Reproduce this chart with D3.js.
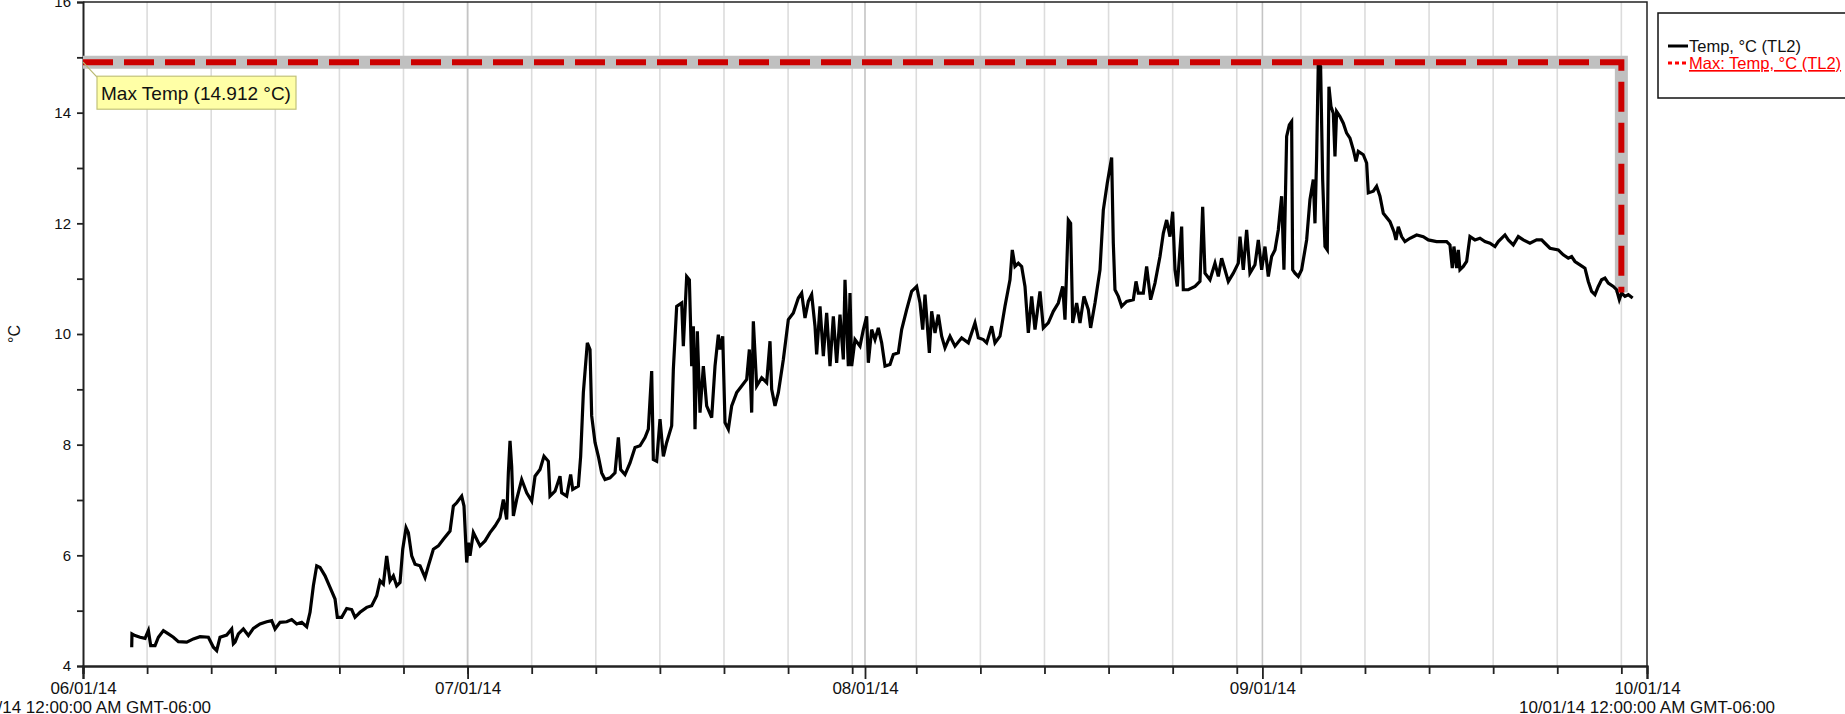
<!DOCTYPE html>
<html>
<head>
<meta charset="utf-8">
<script src="https://cdn.jsdelivr.net/npm/d3@7.9.0/dist/d3.min.js"></script>
<style>
  html, body { margin: 0; padding: 0; background: #fff; overflow: hidden; }
  svg { display: block; font-family: 'Liberation Sans', Arial, sans-serif; }
</style>
</head>
<body>
<svg id="chart"></svg>
<script>
// --- Data: [days since 06/01/14 00:00, temp °C] ---
const readings = [
  [3.80,4.34],[3.82,4.58],[4.06,4.55],[4.45,4.52],[4.84,4.50],[5.10,4.64],[5.28,4.37],[5.62,4.37],[5.88,4.52],[6.27,4.64],
  [6.66,4.58],[7.05,4.52],[7.44,4.44],[8.09,4.43],[8.61,4.49],[9.13,4.53],[9.78,4.52],[10.17,4.34],[10.43,4.28],[10.69,4.52],
  [11.21,4.56],[11.60,4.67],[11.73,4.40],[11.86,4.43],[12.12,4.58],[12.51,4.67],[12.90,4.55],[13.29,4.68],[13.81,4.76],[14.33,4.80],
  [14.72,4.82],[14.98,4.67],[15.37,4.79],[15.89,4.80],[16.28,4.84],[16.67,4.76],[17.06,4.79],[17.45,4.71],[17.71,4.97],[17.97,5.45],
  [18.23,5.81],[18.49,5.78],[18.88,5.63],[19.27,5.42],[19.66,5.21],[19.84,4.88],[20.18,4.88],[20.57,5.04],[20.96,5.02],[21.22,4.88],
  [21.61,4.97],[22.13,5.06],[22.52,5.09],[22.91,5.27],[23.17,5.54],[23.43,5.48],[23.69,5.99],[23.95,5.54],[24.21,5.63],[24.47,5.45],
  [24.73,5.51],[24.94,6.11],[25.20,6.50],[25.38,6.41],[25.64,5.99],[25.90,5.84],[26.29,5.81],[26.68,5.60],[26.94,5.81],[27.33,6.11],
  [27.72,6.17],[28.11,6.29],[28.63,6.44],[28.89,6.89],[29.15,6.95],[29.54,7.07],[29.72,6.89],[29.93,5.87],[30.06,6.23],[30.19,5.99],
  [30.45,6.41],[30.71,6.29],[30.97,6.17],[31.36,6.26],[31.75,6.41],[32.14,6.53],[32.53,6.68],
  [32.79,7.01],[33.05,6.65],[33.18,7.49],[33.31,8.07],[33.44,7.61],[33.57,6.71],[33.83,7.01],[34.22,7.37],[34.61,7.13],[35.00,6.98],
  [35.26,7.43],[35.65,7.55],[35.96,7.79],[36.30,7.70],[36.43,7.07],[36.82,7.16],[37.21,7.43],[37.34,7.13],[37.73,7.07],[38.04,7.46],
  [38.20,7.19],[38.64,7.25],[38.82,7.79],[39.03,8.94],[39.34,9.84],[39.55,9.72],[39.68,8.52],[39.94,8.04],[40.20,7.79],[40.46,7.49],
  [40.72,7.37],[41.11,7.40],[41.50,7.49],[41.76,8.13],[41.94,7.55],[42.28,7.46],[42.67,7.67],[43.06,7.95],[43.45,7.98],[43.84,8.13],
  [44.10,8.28],[44.36,9.33],[44.49,7.73],[44.75,7.70],[45.01,8.46],[45.27,7.79],[45.53,8.04],[45.92,8.34],[46.05,9.36],[46.31,10.50],
  [46.70,10.56],[46.83,9.78],[47.09,11.04],[47.30,10.98],[47.48,9.42],[47.61,10.14],[47.74,8.28],[47.92,10.05],[48.13,8.58],[48.39,9.42],
  [48.65,8.70],[49.04,8.49],[49.30,9.42],[49.56,9.99],[49.69,9.72],[49.90,9.96],[50.08,8.40],[50.34,8.28],[50.60,8.70],[50.99,8.94],
  [51.38,9.06],[51.77,9.18],[51.98,9.72],[52.16,8.58],[52.29,10.23],[52.55,9.06],[52.94,9.21],[53.33,9.12],[53.59,9.87],[53.72,9.00],
  [53.98,8.70],[54.24,8.94],[54.63,9.54],[55.02,10.26],[55.41,10.38],[55.80,10.65],[56.06,10.74],[56.32,10.29],[56.58,10.59],[56.84,10.71],
  [57.10,10.14],[57.23,9.63],[57.49,10.50],[57.75,9.60],[58.01,10.38],[58.27,9.42],[58.53,10.32],[58.79,9.48],[59.05,10.35],[59.31,9.54],
  [59.44,10.98],[59.70,9.42],[59.83,10.74],[59.96,9.42],[60.22,9.90],[60.61,9.78],[60.87,10.08],[61.13,10.32],[61.26,9.48],[61.52,10.08],
  [61.78,9.90],[62.04,10.11],[62.30,9.84],[62.56,9.42],[62.95,9.45],[63.21,9.63],[63.60,9.66],
  [63.86,10.08],[64.25,10.44],[64.64,10.77],[65.03,10.86],[65.29,10.56],[65.50,10.08],[65.68,10.71],[65.81,10.32],[66.02,9.66],[66.20,10.41],
  [66.46,10.02],[66.72,10.35],[66.98,9.96],[67.24,9.75],[67.63,9.96],[68.02,9.78],[68.54,9.93],[69.06,9.84],[69.58,10.20],[69.84,9.93],
  [70.23,9.90],[70.49,9.84],[70.88,10.14],[71.14,9.84],[71.53,9.96],[71.92,10.50],[72.31,10.98],[72.49,11.52],[72.70,11.22],[72.96,11.28],
  [73.22,11.22],[73.48,10.86],[73.74,10.02],[74.00,10.68],[74.26,10.08],[74.65,10.77],[74.91,10.11],[75.30,10.20],[75.69,10.41],[76.08,10.56],
  [76.42,10.86],[76.60,10.26],[76.86,12.06],[77.04,12.00],[77.20,10.20],[77.51,10.56],[77.77,10.20],[78.08,10.68],[78.42,10.44],[78.60,10.11],
  [78.94,10.56],[79.33,11.16],[79.59,12.24],[79.90,12.73],[80.24,13.19],[80.37,11.64],[80.50,10.80],[80.76,10.68],[81.02,10.50],[81.41,10.59],
  [81.93,10.62],[82.14,10.95],[82.32,10.74],[82.71,10.74],[82.97,11.22],[83.28,10.62],[83.62,10.92],[84.01,11.40],[84.27,11.82],[84.53,12.06],
  [84.79,11.76],[85.00,12.21],[85.18,11.16],[85.36,10.86],[85.70,11.94],[85.83,10.80],[86.22,10.80],[86.74,10.86],[87.13,10.95],[87.34,12.30],
  [87.52,11.10],[87.91,10.98],[88.30,11.28],[88.56,11.04],[88.82,11.37],[89.08,11.16],[89.34,10.95],[89.73,11.10],[90.12,11.28],[90.25,11.76],
  [90.51,11.16],[90.77,11.88],[91.03,11.10],[91.42,11.25],[91.68,11.70],[91.94,11.16],[92.20,11.58],[92.46,11.04],[92.72,11.40],[92.98,11.52],
  [93.24,11.88],
  [93.50,12.49],[93.68,11.16],[93.89,13.57],[94.10,13.78],[94.28,13.84],[94.36,11.16],[94.54,11.10],[94.80,11.04],[95.06,11.16],[95.19,11.34],
  [95.45,11.70],[95.71,12.43],[95.97,12.79],[96.10,12.00],[96.23,13.21],[96.36,14.912],[96.54,14.83],[96.70,12.79],[96.88,11.58],[97.06,11.52],
  [97.19,14.47],[97.35,14.11],[97.53,13.99],[97.66,13.21],[97.79,14.02],[98.05,13.93],[98.31,13.81],[98.57,13.63],[98.83,13.54],[99.09,13.33],
  [99.30,13.12],[99.48,13.30],[99.87,13.24],[100.13,13.09],[100.26,12.55],[100.65,12.58],[100.91,12.67],[101.17,12.49],[101.43,12.18],[101.95,12.03],
  [102.26,11.85],[102.42,11.70],[102.60,11.94],[102.86,11.76],[103.12,11.67],[103.51,11.73],[104.03,11.79],[104.55,11.76],[104.94,11.70],[105.59,11.67],
  [106.37,11.67],[106.63,11.61],[106.81,11.19],[106.94,11.58],[107.15,11.19],[107.28,11.52],[107.41,11.16],[107.67,11.22],[107.93,11.31],[108.19,11.76],
  [108.58,11.70],[108.97,11.73],[109.36,11.67],[109.75,11.64],[110.14,11.58],[110.40,11.67],[110.92,11.79],[111.18,11.70],[111.57,11.61],[111.96,11.76],
  [112.35,11.70],[112.87,11.64],[113.39,11.70],[113.78,11.70],[114.04,11.64],[114.43,11.55],[115.08,11.52],[115.47,11.43],[115.86,11.37],[116.12,11.40],
  [116.38,11.31],[116.77,11.25],[117.16,11.19],[117.42,10.95],[117.68,10.77],[117.94,10.71],[118.20,10.86],[118.46,10.98],[118.72,11.01],[118.98,10.92],
  [119.37,10.86],[119.63,10.80],[119.84,10.62],[120.02,10.74],[120.28,10.68],[120.54,10.71],[120.88,10.65]
];

// Max trace: flat at the max, then drops back to the series near the end
const maxTemp = 14.912;
const maxDropDay = 120;
const maxDropTemp = 10.75;

const yTicks = d3.range(4, 17);          // 4..16, labels on even values
const xStart = new Date(Date.UTC(2014, 5, 1));
const xEnd = new Date(Date.UTC(2014, 9, 1));
const rangeLabels = ['06/01/14 12:00:00 AM GMT-06:00', '10/01/14 12:00:00 AM GMT-06:00'];
const legendItems = ['Temp, °C (TL2)', 'Max: Temp, °C (TL2)'];
const annotationText = 'Max Temp (14.912 °C)';
const yTitle = '°C';

// --- Layout ---
const width = 1845;
const height = 714;
const plot = { left: 83, right: 1647, top: 2, bottom: 666 };

const svg = d3.select('#chart').attr('width', width).attr('height', height);
svg.append('rect').attr('width', width).attr('height', height).attr('fill', '#fff');

const dayToDate = (d) => new Date(xStart.getTime() + d * 864e5);

const x = d3.scaleUtc().domain([xStart, xEnd]).range([plot.left, plot.right]);
const y = d3.scaleLinear().domain([4, 16]).range([plot.bottom, plot.top]);

const fiveDays = d3.utcDay.range(xStart, xEnd, 5);
const months = d3.utcMonth.range(xStart, d3.utcDay.offset(xEnd, 1));
const fmt = d3.utcFormat('%m/%d/%y');

// gridlines: every 5 days, month starts slightly darker
svg.append('g')
  .selectAll('line')
  .data(fiveDays.filter((d) => d > xStart))
  .join('line')
  .attr('x1', (d) => x(d)).attr('x2', (d) => x(d))
  .attr('y1', plot.top).attr('y2', plot.bottom)
  .attr('stroke', '#dcdcdc').attr('stroke-width', 1.6);

svg.append('g')
  .selectAll('line')
  .data(months.filter((d) => d > xStart && d < xEnd))
  .join('line')
  .attr('x1', (d) => x(d)).attr('x2', (d) => x(d))
  .attr('y1', plot.top).attr('y2', plot.bottom)
  .attr('stroke', '#c4c4c4').attr('stroke-width', 1.6);

// plot frame (top and right)
svg.append('path')
  .attr('d', `M${plot.left},${plot.top}H${plot.right}V${plot.bottom}`)
  .attr('fill', 'none').attr('stroke', '#222').attr('stroke-width', 1.5);

// --- Axes ---
const xMinor = svg.append('g')
  .attr('transform', `translate(0,${plot.bottom})`)
  .call(d3.axisBottom(x).tickValues(fiveDays).tickSize(8).tickFormat(''));

const xMajor = svg.append('g')
  .attr('transform', `translate(0,${plot.bottom})`)
  .call(d3.axisBottom(x).tickValues(months).tickSize(13).tickPadding(3).tickFormat(fmt));

const yAxis = svg.append('g')
  .attr('transform', `translate(${plot.left},0)`)
  .call(d3.axisLeft(y).tickValues(yTicks).tickSize(6).tickPadding(6)
    .tickFormat((d) => (d % 2 === 0 ? d : '')));

[xMinor, xMajor, yAxis].forEach((g) => {
  g.select('.domain').attr('stroke', '#222').attr('stroke-width', 2);
  g.selectAll('.tick line').attr('stroke', '#222').attr('stroke-width', 1.8);
  g.selectAll('text').attr('fill', '#111').style('font-family', "'Liberation Sans', Arial, sans-serif");
});
xMajor.selectAll('text').style('font-size', '17px');
yAxis.selectAll('text').style('font-size', '15px');

svg.selectAll('.range-label')
  .data(rangeLabels)
  .join('text')
  .attr('class', 'range-label')
  .attr('x', (d, i) => (i === 0 ? x(xStart) : x(xEnd)))
  .attr('y', 713)
  .attr('text-anchor', 'middle')
  .attr('fill', '#111')
  .style('font-size', '17px')
  .text((d) => d);

svg.append('text')
  .attr('transform', `translate(20,${y(10)}) rotate(-90)`)
  .attr('text-anchor', 'middle')
  .attr('fill', '#111')
  .style('font-size', '16px')
  .text(yTitle);

// --- Max trace (gray halo + red dashes) ---
const maxPts = [[0, maxTemp], [maxDropDay, maxTemp], [maxDropDay, maxDropTemp]];
const maxLine = d3.line().x((d) => x(dayToDate(d[0]))).y((d) => y(d[1]));

svg.append('path')
  .attr('d', maxLine(maxPts))
  .attr('fill', 'none').attr('stroke', '#c0c0c0').attr('stroke-width', 13);

// --- Temperature series ---
const line = d3.line().x((d) => x(dayToDate(d[0]))).y((d) => y(d[1]));
svg.append('path')
  .datum(readings)
  .attr('d', line)
  .attr('fill', 'none')
  .attr('stroke', '#000')
  .attr('stroke-width', 3.2)
  .attr('stroke-linejoin', 'miter');

svg.append('path')
  .attr('d', maxLine(maxPts))
  .attr('fill', 'none').attr('stroke', '#cc0000').attr('stroke-width', 6)
  .attr('stroke-dasharray', '30 11');

// --- Annotation ---
const ax = x(xStart), ay = y(maxTemp);
svg.append('line')
  .attr('x1', ax).attr('y1', ay).attr('x2', ax + 14).attr('y2', ay + 15)
  .attr('stroke', '#b8b870').attr('stroke-width', 1.2);
svg.append('rect')
  .attr('x', ax + 14).attr('y', ay + 14).attr('width', 199).attr('height', 33)
  .attr('fill', '#ffffa6').attr('stroke', '#c2c27a').attr('stroke-width', 1.2);
svg.append('text')
  .attr('x', ax + 18).attr('y', ay + 38)
  .attr('fill', '#111')
  .style('font-size', '19px')
  .text(annotationText);

// --- Legend ---
const legend = svg.append('g').attr('transform', 'translate(1658,13)');
legend.append('rect')
  .attr('width', 220).attr('height', 85)
  .attr('fill', '#fff').attr('stroke', '#111').attr('stroke-width', 1.5);

legend.append('line')
  .attr('x1', 10).attr('x2', 30).attr('y1', 33).attr('y2', 33)
  .attr('stroke', '#000').attr('stroke-width', 3);
legend.append('line')
  .attr('x1', 10).attr('x2', 30).attr('y1', 50).attr('y2', 50)
  .attr('stroke', '#ff0000').attr('stroke-width', 3).attr('stroke-dasharray', '4 3');

legend.selectAll('.legend-text')
  .data(legendItems)
  .join('text')
  .attr('class', 'legend-text')
  .attr('x', 31)
  .attr('y', (d, i) => 39 + i * 17)
  .attr('fill', (d, i) => (i === 0 ? '#111' : '#ff0000'))
  .attr('text-decoration', (d, i) => (i === 1 ? 'underline' : null))
  .style('font-size', '16.5px')
  .text((d) => d);
</script>
</body>
</html>
